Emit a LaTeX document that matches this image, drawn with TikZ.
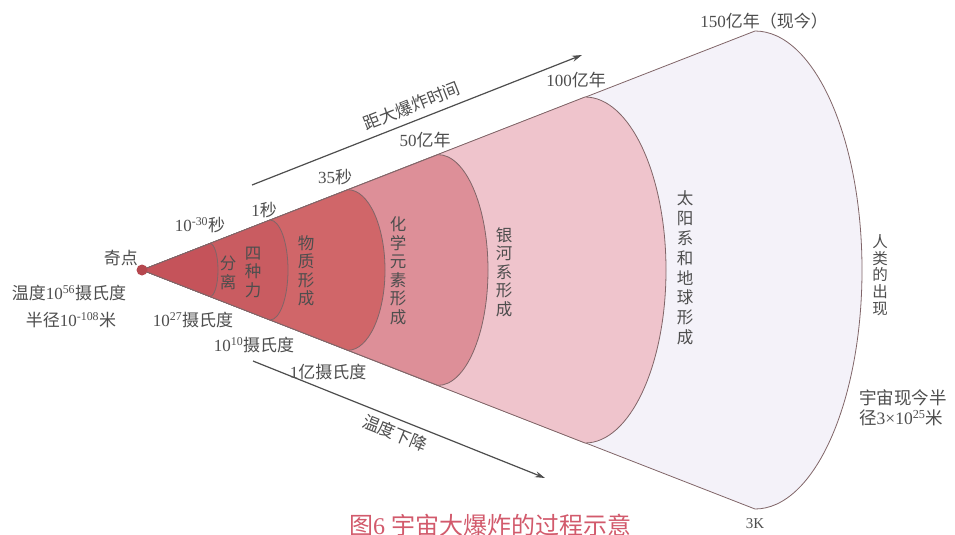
\documentclass[tikz,border=0pt]{standalone}
\usepackage{fontspec}
\setmainfont{Liberation Serif}
\newfontfamily\cjk{Noto Sans CJK SC}
\usetikzlibrary{arrows.meta}
\definecolor{txt}{HTML}{4E4E4E}
\definecolor{edge}{HTML}{806568}
\definecolor{rA}{HTML}{C5535A}
\definecolor{rB}{HTML}{C95C61}
\definecolor{rC}{HTML}{D06669}
\definecolor{rD}{HTML}{DD8F98}
\definecolor{rE}{HTML}{EFC4CC}
\definecolor{rF}{HTML}{F4F2F9}
\definecolor{dot}{HTML}{B5474E}
\definecolor{cap}{HTML}{D25A6C}
\newcommand\conezone[4]{%
  \filldraw[zone, fill=#4] (apex) -- ({#1},{270-#2})
    arc[start angle=90, end angle=-90, x radius=#3 pt, y radius=#2 pt] -- cycle;}
\begin{document}
\begin{tikzpicture}[x=1pt,y=-1pt,
  lbl/.style={font=\fontsize{17}{19}\selectfont, text=txt, inner sep=0pt},
  vlbl/.style={text=txt, inner sep=0pt, align=center, font=\fontsize{16.5}{18.5}\selectfont\cjk},
  zone/.style={draw=edge, line width=0.8pt, line join=round},
  arr/.style={draw=txt, line width=1.2pt, -{Stealth[length=10pt,width=6pt]}}]
\useasboundingbox (0,0) rectangle (955,535);
\fill[white] (0,0) rectangle (955,535);
\coordinate (apex) at (142,270);
% bands, outer first
\conezone{755}{239}{107}{rF}
\conezone{585}{173}{81}{rE}
\conezone{438}{115.4}{50}{rD}
\conezone{348}{80.3}{37}{rC}
\conezone{270}{50}{18}{rB}
\conezone{210}{26.5}{8}{rA}
\fill[dot] (apex) circle (5.5pt);
% time labels along the top
\node[lbl, anchor=east] (qd) at (138,258) {\cjk 奇点};
\node[lbl] (wd) at (69,293) {{\cjk 温度}10\textsuperscript{56}{\cjk 摄氏度}};
\node[lbl] (bj) at (71,320) {{\cjk 半径}10\textsuperscript{-108}{\cjk 米}};
\node[lbl] (t1) at (200,225) {10\textsuperscript{-30}{\cjk 秒}};
\node[lbl] (t2) at (264,210) {1{\cjk 秒}};
\node[lbl] (t3) at (335,177) {35{\cjk 秒}};
\node[lbl] (t4) at (425,140) {50{\cjk 亿年}};
\node[lbl] (t5) at (576,80) {100{\cjk 亿年}};
\node[lbl] (t6) at (764,21) {150{\cjk 亿年（现今）}};
% temperature labels
\node[lbl] (c1) at (193,320) {10\textsuperscript{27}{\cjk 摄氏度}};
\node[lbl] (c2) at (254,345) {10\textsuperscript{10}{\cjk 摄氏度}};
\node[lbl] (c3) at (328,372) {1{\cjk 亿摄氏度}};
% arrows
\coordinate (u0) at (252,185); \coordinate (u1) at (582,55);
\coordinate (d0) at (253,361); \coordinate (d1) at (545,478);
\draw[arr] (u0) -- (u1);
\draw[arr] (d0) -- (d1);
\node[lbl, rotate=21.5] (tm) at (412,106) {\cjk 距大爆炸时间};
\node[lbl, rotate=-22] (tx) at (395,433) {\cjk 温度下降};
% vertical labels
\node[vlbl] (fl) at (228,273) {分\\离};
\node[vlbl] (sz) at (253,272) {四\\种\\力};
\node[vlbl] (wz) at (306,271) {物\\质\\形\\成};
\node[vlbl] (hx) at (398,271) {化\\学\\元\\素\\形\\成};
\node[vlbl] (yh) at (504,272) {银\\河\\系\\形\\成};
\node[vlbl, font=\fontsize{16.5}{19.8}\selectfont\cjk] (ty) at (685,268) {太\\阳\\系\\和\\地\\球\\形\\成};
\node[vlbl, font=\fontsize{15.5}{16.8}\selectfont\cjk] (rl) at (880,275) {人\\类\\的\\出\\现};
% right side
\node[lbl, align=left, anchor=west, font=\fontsize{17.5}{20}\selectfont] (bj2) at (859,408)
  {{\cjk 宇宙现今半}\\{\cjk 径}3×10\textsuperscript{25}{\cjk 米}};
\node[lbl, font=\fontsize{15}{17}\selectfont] (k3) at (755,524) {3K};
% caption (cut by the frame)
\node[lbl, text=cap, font=\fontsize{24}{26}\selectfont, anchor=north] (cp) at (490,514)
  {{\cjk 图}6 {\cjk 宇宙大爆炸的过程示意}};
\end{tikzpicture}
\end{document}
